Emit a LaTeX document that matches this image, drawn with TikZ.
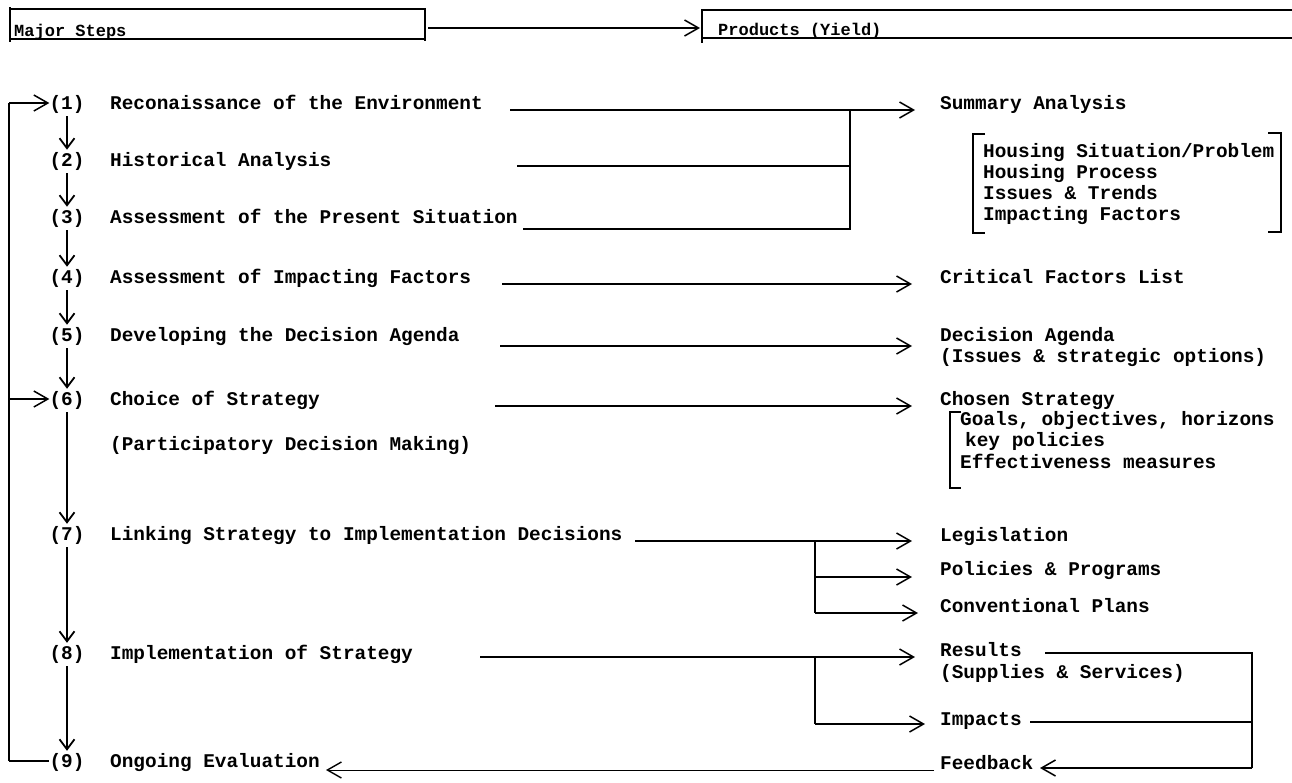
\documentclass[tikz,border=0pt]{standalone}
\usepackage{fontspec}
\setmainfont{Liberation Mono}
\usetikzlibrary{arrows.meta}
\begin{document}
\begin{tikzpicture}[x=1pt,y=-1pt,
  txt/.style={anchor=base west,inner sep=0pt,font=\fontsize{19.4}{21}\selectfont\bfseries},
  hdr/.style={anchor=base west,inner sep=0pt,font=\fontsize{17}{19}\selectfont\bfseries},
  num/.style={anchor=base,inner sep=0pt,font=\fontsize{19.4}{21}\selectfont\bfseries},
  ln/.style={line width=1.5pt},
  thin ln/.style={line width=0.9pt},
  bar/.style={line width=2.6pt},
  arr/.style={line width=1.5pt,-{Straight Barb[length=14pt,width=16pt,line width=1.5pt]}},
  down/.style={line width=2.4pt,shorten <=3pt,shorten >=2pt,-{Straight Barb[length=10pt,width=15pt,line width=1.8pt]}}
]
\useasboundingbox (0,0) rectangle (1292,782);
\fill[white] (0,0) rectangle (1292,782);

% ---------- header ----------
\node[hdr] (ms) at (14,36) {Major Steps};
\node[hdr] (py) at (718,35) {Products (Yield)};
\draw[bar] (10,7) -- (10,42);
\draw[ln] (10,9) -- (425,9) (10,39) -- (425,39);
\draw[ln] (425,8) -- (425,41);
\draw[bar] (702,9) -- (702,43);
\draw[ln] (702,10) -- (1292,10) (702,38) -- (1292,38);
\coordinate (hL) at (428,28);
\coordinate (hR) at (700,28);
\draw[arr] (hL) -- (hR);

% ---------- major steps ----------
\node[num] (s1) at (67,109) {(1)};
\node[num] (s2) at (67,166) {(2)};
\node[num] (s3) at (67,223) {(3)};
\node[num] (s4) at (67,283) {(4)};
\node[num] (s5) at (67,341) {(5)};
\node[num] (s6) at (67,405) {(6)};
\node[num] (s7) at (67,540) {(7)};
\node[num] (s8) at (67,659) {(8)};
\node[num] (s9) at (67,767) {(9)};

\node[txt] (t1) at (110,109) {Reconaissance of the Environment};
\node[txt] (t2) at (110,166) {Historical Analysis};
\node[txt] (t3) at (110,223) {Assessment of the Present Situation};
\node[txt] (t4) at (110,283) {Assessment of Impacting Factors};
\node[txt] (t5) at (110,341) {Developing the Decision Agenda};
\node[txt] (t6) at (110,405) {Choice of Strategy};
\node[txt] (t6b) at (110,450) {(Participatory Decision Making)};
\node[txt] (t7) at (110,540) {Linking Strategy to Implementation Decisions};
\node[txt] (t8) at (110,659) {Implementation of Strategy};
\node[txt] (t9) at (110,767) {Ongoing Evaluation};

\foreach \a/\b in {s1/s2,s2/s3,s3/s4,s4/s5,s5/s6,s6/s7,s7/s8,s8/s9}
  \draw[down] (\a.south) -- (\b.north);

% ---------- feedback loop on the left ----------
\coordinate (lTop) at (9,103);
\coordinate (lMid) at (9,399);
\coordinate (lBot) at (9,761);
\draw[bar] (lTop) -- (lBot);
\draw[ln] (lBot) -- (s9.west |- lBot);
\draw[arr] (lTop) -- (s1.west |- lTop);
\draw[arr] (lMid) -- (s6.west |- lMid);

% ---------- products ----------
\node[txt] (p1) at (940,109) {Summary Analysis};
\node[txt] (h1) at (983,157) {Housing Situation/Problem};
\node[txt] (h2) at (983,178) {Housing Process};
\node[txt] (h3) at (983,199) {Issues \& Trends};
\node[txt] (h4) at (983,220) {Impacting Factors};
\node[txt] (p4) at (940,283) {Critical Factors List};
\node[txt] (p5) at (940,341) {Decision Agenda};
\node[txt] (p5b) at (940,362) {(Issues \& strategic options)};
\node[txt] (p6) at (940,405) {Chosen Strategy};
\node[txt] (g1) at (960,425) {Goals, objectives, horizons};
\node[txt] (g2) at (965,446) {key policies};
\node[txt] (g3) at (960,468) {Effectiveness measures};
\node[txt] (p7a) at (940,541) {Legislation};
\node[txt] (p7b) at (940,575) {Policies \& Programs};
\node[txt] (p7c) at (940,612) {Conventional Plans};
\node[txt] (p8a) at (940,656) {Results};
\node[txt] (p8b) at (940,678) {(Supplies \& Services)};
\node[txt] (p8c) at (940,725) {Impacts};
\node[txt] (fb) at (940,769) {Feedback};

% brackets
\draw[ln] (985,134) -- (973,134) -- (973,233) -- (985,233);
\draw[ln] (1268,133) -- (1281,133) -- (1281,232) -- (1268,232);
\draw[ln] (961,412) -- (950,412) -- (950,488) -- (961,488);

% ---------- connectors ----------
% rows 1-3
\coordinate (r1s) at (510,110);  \coordinate (r1e) at (915,110);
\coordinate (r2s) at (517,166);
\coordinate (r3s) at (523,229);
\coordinate (j1) at (850,110);
\draw[arr] (r1s) -- (r1e);
\draw[ln] (j1) -- (j1 |- r3s) -- (r3s);
\draw[ln] (r2s) -- (j1 |- r2s);
% row 4
\coordinate (r4s) at (502,284); \coordinate (r4e) at (912,284);
\draw[arr] (r4s) -- (r4e);
% row 5
\coordinate (r5s) at (500,346); \coordinate (r5e) at (912,346);
\draw[arr] (r5s) -- (r5e);
% row 6
\coordinate (r6s) at (495,406); \coordinate (r6e) at (912,406);
\draw[arr] (r6s) -- (r6e);
% row 7
\coordinate (r7s) at (635,541); \coordinate (r7e) at (912,541);
\coordinate (j7) at (815,541);
\coordinate (r7b) at (912,577);
\coordinate (r7c) at (918,613);
\draw[arr] (r7s) -- (r7e);
\draw[ln] (j7) -- (j7 |- r7c);
\draw[arr] (j7 |- r7b) -- (r7b);
\draw[arr] (j7 |- r7c) -- (r7c);
% row 8
\coordinate (r8s) at (480,657); \coordinate (r8e) at (915,657);
\coordinate (j8) at (815,657);
\coordinate (r8b) at (925,724);
\draw[arr] (r8s) -- (r8e);
\draw[ln] (j8) -- (j8 |- r8b);
\draw[arr] (j8 |- r8b) -- (r8b);
% feedback on the right
\coordinate (fR) at (1252,653);
\coordinate (fI) at (1030,722);
\coordinate (fA) at (1045,653);
\coordinate (fB) at (1252,768);
\coordinate (fE) at (1040,768);
\draw[ln] (fA) -- (fR) -- (fB);
\draw[ln] (fI) -- (fR |- fI);
\draw[arr] (fB) -- (fE);
% feedback to ongoing evaluation
\coordinate (bS) at (934,770);
\coordinate (bE) at (326,770);
\draw[thin ln,-{Straight Barb[length=14pt,width=16pt,line width=1.4pt]}] (bS) -- (bE);
\end{tikzpicture}
\end{document}
